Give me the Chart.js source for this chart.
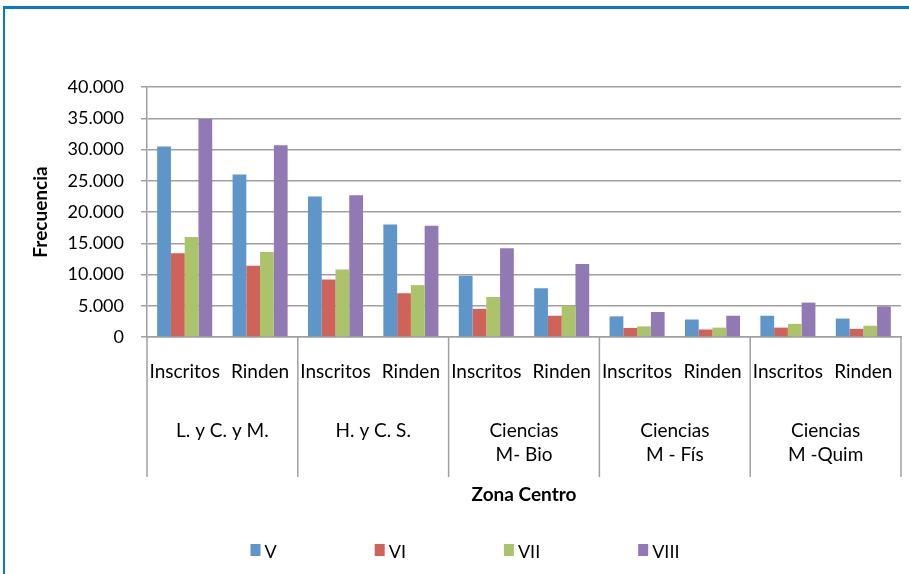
<!DOCTYPE html>
<html>
<head>
<meta charset="utf-8">
<script src="https://cdn.jsdelivr.net/npm/chart.js@4.4.1/dist/chart.umd.min.js"></script>
<style>
html, body { margin: 0; padding: 0; background: #fff; overflow: hidden; }
#frame { position: absolute; left: 3px; top: 6px; width: 1000px; height: 1000px;
  border-left: 2px solid #0a78c4; border-top: 3px solid #0a78c4; }
#wrap { position: absolute; left: 0; top: 0; width: 909px; height: 574px; }
</style>
</head>
<body>
<div id="frame"></div>
<div id="wrap"><canvas id="chart" width="909" height="574"></canvas></div>
<script>
// categories (bottom level) and groups (second level) of the x axis
var categories = ['Inscritos', 'Rinden', 'Inscritos', 'Rinden', 'Inscritos', 'Rinden',
                  'Inscritos', 'Rinden', 'Inscritos', 'Rinden'];
var groups = [['L. y C. y M.'], ['H. y C. S.'], ['Ciencias', 'M- Bio'],
              ['Ciencias', 'M - Fís'], ['Ciencias', 'M -Quim']];
var seriesNames = ['V', 'VI', 'VII', 'VIII'];

// values
var valuesV    = [30500, 26000, 22500, 18000, 9800, 7800, 3300, 2800, 3400, 2950];
var valuesVI   = [13400, 11400, 9200, 7000, 4500, 3400, 1450, 1200, 1500, 1300];
var valuesVII  = [16000, 13600, 10800, 8300, 6400, 5000, 1700, 1500, 2100, 1800];
var valuesVIII = [34900, 30700, 22700, 17800, 14200, 11700, 4000, 3400, 5500, 4900];

var colors = ['#5e96ca', '#cf6259', '#abc46b', '#9179b3'];
var gridColor = '#a0a0a0';
var fontFamily = 'Lato, "Open Sans", sans-serif';

function fmt(v) {
    return String(v).replace(/\B(?=(\d{3})+(?!\d))/g, '.');
}

// second level labels, group separators and legend
var groupPlugin = {
    id: 'groupLabels',
    afterDraw: function(chart) {
        var ctx = chart.ctx, x = chart.scales.x, area = chart.chartArea;
        ctx.save();
        ctx.strokeStyle = gridColor;
        ctx.lineWidth = 1.5;
        for (var g = 0; g <= groups.length; g++) {
            var px;
            if (g === 0) px = area.left;
            else if (g === groups.length) px = area.right;
            else px = (x.getPixelForValue(2 * g - 1) + x.getPixelForValue(2 * g)) / 2;
            ctx.beginPath();
            ctx.moveTo(px, area.bottom);
            ctx.lineTo(px, area.bottom + 140);
            ctx.stroke();
        }
        ctx.fillStyle = '#000';
        ctx.font = '19px ' + fontFamily;
        ctx.textAlign = 'center';
        ctx.textBaseline = 'middle';
        groups.forEach(function(lines, g) {
            var cx = (x.getPixelForValue(2 * g) + x.getPixelForValue(2 * g + 1)) / 2;
            lines.forEach(function(t, i) {
                ctx.fillText(t, cx, area.bottom + 94 + i * 24);
            });
        });

        // legend
        var gap = 98, box = 10, items = [], total = 0;
        ctx.font = '18px ' + fontFamily;
        ctx.textAlign = 'left';
        chart.data.datasets.forEach(function(ds) {
            var w = box + 4 + ctx.measureText(ds.label).width;
            items.push(w);
            total += w;
        });
        total += gap * (items.length - 1);
        var lx = 465 - total / 2, ly = 551;
        chart.data.datasets.forEach(function(ds, i) {
            ctx.fillStyle = ds.backgroundColor;
            ctx.fillRect(lx, ly - 7, box, 12);
            ctx.fillStyle = '#000';
            ctx.fillText(ds.label, lx + box + 4, ly + 1);
            lx += items[i] + gap;
        });
        ctx.restore();
    }
};

var allValues = [valuesV, valuesVI, valuesVII, valuesVIII];
var datasets = seriesNames.map(function(name, i) {
    return {
        label: name,
        data: allValues[i],
        backgroundColor: colors[i],
        borderWidth: 0,
        categoryPercentage: 0.73,
        barPercentage: 1.0
    };
});

new Chart(document.getElementById('chart'), {
    type: 'bar',
    data: { labels: categories, datasets: datasets },
    plugins: [groupPlugin],
    options: {
        responsive: false,
        animation: false,
        layout: { padding: { left: 0, top: 87, right: 8, bottom: 57 } },
        plugins: {
            legend: { display: false },
            tooltip: { enabled: false }
        },
        scales: {
            x: {
                grid: { display: false },
                border: { display: true, color: gridColor, width: 1.5 },
                ticks: {
                    color: '#000', padding: 15, maxRotation: 0, autoSkip: false,
                    font: { family: fontFamily, size: 19 }
                },
                title: {
                    display: true, text: 'Zona Centro', color: '#000',
                    font: { family: fontFamily, size: 19, weight: 'bold' },
                    padding: { top: 0, bottom: 11 }
                },
                afterFit: function(scale) { scale.height = 180; }
            },
            y: {
                min: 0, max: 40000,
                grid: { color: gridColor, lineWidth: 1.5, tickLength: 6 },
                border: { display: true, color: gridColor, width: 1.5 },
                ticks: {
                    stepSize: 5000, color: '#000', padding: 17,
                    font: { family: fontFamily, size: 18 },
                    callback: function(v) { return fmt(v); }
                },
                title: {
                    display: true, text: 'Frecuencia', color: '#000',
                    font: { family: fontFamily, size: 19, weight: 'bold' },
                    padding: { top: 29, bottom: 0 }
                },
                afterFit: function(scale) { scale.width = 147; }
            }
        }
    }
});
</script>
</body>
</html>
